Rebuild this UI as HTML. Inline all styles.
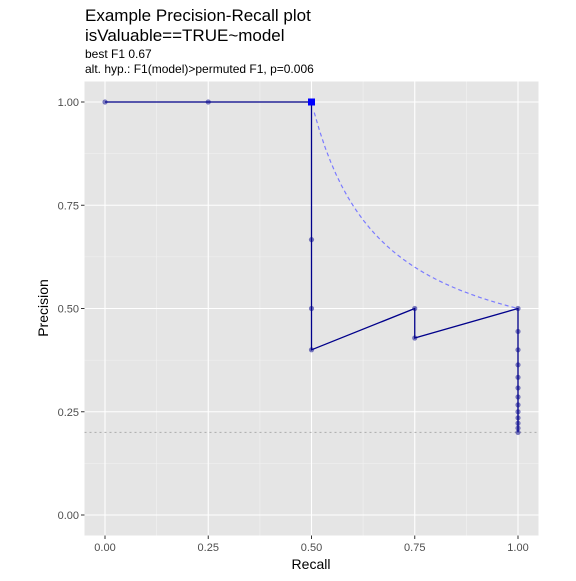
<!DOCTYPE html>
<html><head><meta charset="utf-8"><style>
body{margin:0;background:#fff;font-family:"Liberation Sans",Arial,sans-serif}
svg text{font-family:"Liberation Sans",Arial,sans-serif}
</style></head><body>
<svg id="c" width="576" height="576" xmlns="http://www.w3.org/2000/svg">
<text x="85" y="21" font-size="17">Example Precision-Recall plot</text>
<text x="85" y="41" font-size="17">isValuable==TRUE~model</text>
<text x="85" y="58" font-size="12">best F1 0.67</text>
<text x="85" y="73" font-size="12"> alt. hyp.: F1(model)&gt;permuted F1, p=0.006</text>
<rect x="84.5" y="81.5" width="454" height="454" fill="#e5e5e5"/>
<g id="grid"></g><g id="marks"></g><g id="axes"></g>
<text x="311" y="569" font-size="14" text-anchor="middle">Recall</text>
<text transform="translate(48,308) rotate(-90)" font-size="14" text-anchor="middle">Precision</text>
</svg>
<script>
const recall=[0,0.25,0.5,0.5,0.5,0.5,0.75,0.75,1,1,1,1,1,1,1,1,1,1,1,1,1];
const precision=[1,1,1,0.6667,0.5,0.4,0.5,0.4286,0.5,0.4444,0.4,0.3636,0.3333,0.3077,0.2857,0.2667,0.25,0.2353,0.2222,0.2105,0.2];
const pathRecall=[0,0.5,0.5,0.75,0.75,1,1];
const pathPrecision=[1,1,0.4,0.5,0.4286,0.5,0.2];
const bestF1=0.6667, bestR=0.5, bestP=1, baseline=0.2;
const ticks=[0,0.25,0.5,0.75,1];
const tickLabels=["0.00","0.25","0.50","0.75","1.00"];
const NS="http://www.w3.org/2000/svg";
const X=v=>105+v*413, Y=v=>515-v*413;
function mk(t,a,p){const e=document.createElementNS(NS,t);for(const k in a)e.setAttribute(k,a[k]);p.appendChild(e);return e;}
const G=document.getElementById('grid'),M=document.getElementById('marks'),A=document.getElementById('axes');
for(let i=0;i<4;i++){const m=(ticks[i]+ticks[i+1])/2;
 let l=mk('line',{x1:X(m),x2:X(m),y1:81.5,y2:535.5,stroke:'#f2f2f2','stroke-width':0.6},G);
 
 l=mk('line',{x1:84.5,x2:538.5,y1:Y(m),y2:Y(m),stroke:'#f2f2f2','stroke-width':0.6},G);
 }
ticks.forEach((t,i)=>{
 let l=mk('line',{x1:X(t),x2:X(t),y1:81.5,y2:535.5,stroke:'#fff','stroke-width':1.1},G);
 
 l=mk('line',{x1:84.5,x2:538.5,y1:Y(t),y2:Y(t),stroke:'#fff','stroke-width':1.1},G);
 
 l=mk('line',{x1:X(t),x2:X(t),y1:535.5,y2:539,stroke:'#333'},A);
 
 l=mk('line',{x1:81,x2:84.5,y1:Y(t),y2:Y(t),stroke:'#333'},A);
 
 let tx=mk('text',{x:X(t),y:551,'font-size':11,fill:'#4d4d4d','text-anchor':'middle'},A);tx.textContent=tickLabels[i];
 
 tx=mk('text',{x:79,y:Y(t)+4,'font-size':11,fill:'#4d4d4d','text-anchor':'end'},A);tx.textContent=tickLabels[i];
 
});
// reference dotted lines
let r=mk('line',{x1:X(0),x2:X(0),y1:81.5,y2:535.5,stroke:'#fff','stroke-dasharray':'2,3'},M);
r=mk('line',{x1:X(1),x2:X(1),y1:81.5,y2:535.5,stroke:'#fff','stroke-dasharray':'2,3'},M);
r=mk('line',{x1:84.5,x2:538.5,y1:Y(1),y2:Y(1),stroke:'#fff','stroke-dasharray':'2,3'},M);
r=mk('line',{x1:84.5,x2:538.5,y1:Y(baseline),y2:Y(baseline),stroke:'#aaa','stroke-dasharray':'2,3'},M);
// iso-F1 curve
let d='';for(let i=0;i<=50;i++){const R=bestF1/2+ (1-bestF1/2)*i/50; if(R<bestR)continue; const P=bestF1*R/(2*R-bestF1); if(P>1.0001)continue; d+=(d?'L':'M')+X(R)+','+Y(P);}
r=mk('path',{d:d,fill:'none',stroke:'#7b7bff','stroke-width':1.2,'stroke-dasharray':'4,3'},M);
r=mk('polyline',{points:pathRecall.map((v,i)=>X(v)+','+Y(pathPrecision[i])).join(' '),fill:'none',stroke:'#00008b','stroke-width':1.3},M);

recall.forEach((v,i)=>{const c=mk('circle',{cx:X(v),cy:Y(precision[i]),r:2.6,fill:'#00008b','fill-opacity':0.5},M);
 });
r=mk('rect',{x:X(bestR)-3.5,y:Y(bestP)-3.5,width:7,height:7,fill:'#0000ff'},M);
</script>
</body></html>
